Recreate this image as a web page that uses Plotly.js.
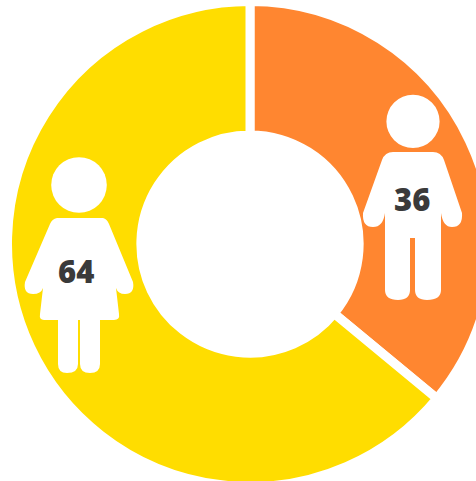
<!DOCTYPE html>
<html><head><meta charset="utf-8">
<script src="https://cdn.plot.ly/plotly-3.0.1.min.js"></script>
<style>html,body{margin:0;padding:0;background:#fff;overflow:hidden;width:476px;height:481px}#c{width:476px;height:481px;overflow:hidden}</style>
</head><body><div id="c"></div>
<script>
const categories=['Male','Female'];
const values=[36,64];
const colors=['#FF8630','#FFDD00'];
const labels=['36','64'];
// The ring runs past the window's right and bottom edges, so the plot is laid out larger and clipped by the page.
const W=500,H=490,cx=250,cy=244,R=242.5;
const px=x=>x/W, py=y=>1-y/H;
function pth(cmds){
 return cmds.map(c=>{
  let s=c[0];
  for(let i=1;i<c.length;i+=2) s+=(i>1?' ':'')+px(c[i]).toFixed(5)+','+py(c[i+1]).toFixed(5);
  return s;
 }).join(' ')+' Z';
}
const base={xref:'paper',yref:'paper',fillcolor:'#fff',line:{width:0},layer:'above'};
const head=(x,y,r)=>({...base,type:'circle',x0:px(x-r),x1:px(x+r),y0:py(y+r),y1:py(y-r)});
const manBody=pth([['M',393,152],['L',433,152],['Q',441,152,444,160],['L',462,213],['Q',463,227,452,227],['Q',443,227,441,213],
 ['L',441,290],['Q',441,300,427,300],['Q',415,300,415,290],['L',415,238],['L',410,238],['L',410,290],['Q',410,300,398,300],
 ['Q',385,300,385,290],['L',385,213],['Q',383,227,373,227],['Q',362,227,363,213],['L',382,160],['Q',385,152,393,152]]);
const womanBody=pth([['M',57,218],['L',103,218],['Q',107,219,109,224],['L',133,282],['Q',135,294,125,294],['Q',118,294,116,288],
 ['L',119,314],['Q',120,320,114,320],['L',100,320],['L',100,364],['Q',100,373,90,373],['Q',80,373,80,364],['L',80,320],['L',78,320],
 ['L',78,364],['Q',78,373,67,373],['Q',58,373,58,364],['L',58,320],['L',44,320],['Q',39,320,40,314],['L',43,288],['Q',41,294,33,294],
 ['Q',23,294,25,282],['L',50,224],['Q',52,219,57,218]]);
const shapes=[head(413,121.4,26.6),{...base,type:'path',path:manBody},head(79,185,27.8),{...base,type:'path',path:womanBody}];
const annotations=[[labels[0],411.5,198.5],[labels[1],76,270.5]].map(a=>({text:a[0],x:px(a[1]),y:py(a[2]),xref:'paper',yref:'paper',
 showarrow:false,xanchor:'center',yanchor:'middle',font:{family:'Open Sans, sans-serif',size:31,color:'#3A3A3A',weight:800}}));
Plotly.newPlot('c',[{type:'pie',labels:categories,values:values,hole:0.45,sort:false,direction:'clockwise',rotation:0,
 marker:{colors:colors,line:{color:'#fff',width:9}},textinfo:'none',hoverinfo:'label+value',
 domain:{x:[(cx-R)/W,(cx+R)/W],y:[1-(cy+R)/H,1-(cy-R)/H]}}],
 {width:W,height:H,margin:{l:0,r:0,t:0,b:0},showlegend:false,paper_bgcolor:'#fff',annotations,shapes},
 {displayModeBar:false,staticPlot:true});
</script></body></html>
